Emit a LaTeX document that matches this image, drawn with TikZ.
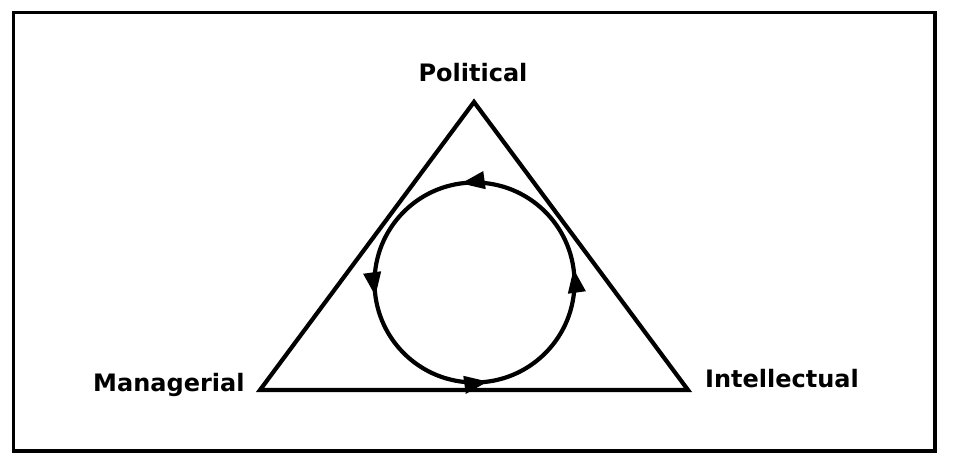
\documentclass[tikz,border=0pt]{standalone}
\usepackage{fontspec}
\setsansfont{DejaVu Sans}
\usetikzlibrary{arrows.meta,decorations.markings}
\begin{document}
\begin{tikzpicture}[x=1pt,y=1pt,
  lbl/.style={font=\sffamily\bfseries\fontsize{24}{27}\selectfont, inner sep=0pt},
  shapeline/.style={line width=4.2pt, line join=miter},
  frameline/.style={line width=3.2pt},
  flowtip/.tip={Triangle[length=24pt,width=17pt]},
  cycleline/.style={line width=4.2pt, postaction={decorate},
    decoration={markings,
      mark=at position 0.147 with {\arrow{flowtip}},
      mark=at position 0.397 with {\arrow{flowtip}},
      mark=at position 0.647 with {\arrow{flowtip}},
      mark=at position 0.897 with {\arrow{flowtip}}}}]
\useasboundingbox (0,0) rectangle (956,453);
% frame
\draw[frameline] (13.5,2) rectangle (935,440.7);
\draw[line width=4.8pt] (935,2) -- (935,440.7);
% triangle
\coordinate (top) at (474,351);
\coordinate (bl) at (260,63);
\coordinate (br) at (688,63);
\draw[shapeline] (top) -- (bl) -- (br) -- cycle;
% cycle
\coordinate (ctr) at (474.5,170.5);
\draw[cycleline] (ctr) ++(45:100) arc[start angle=45, end angle=405, radius=100];
% labels
\node[lbl, anchor=base] (pol) at (473,371) {Political};
\node[lbl, anchor=base west] (man) at (93,62) {Managerial};
\node[lbl, anchor=base west] (int) at (705,66) {Intellectual};
\end{tikzpicture}
\end{document}
